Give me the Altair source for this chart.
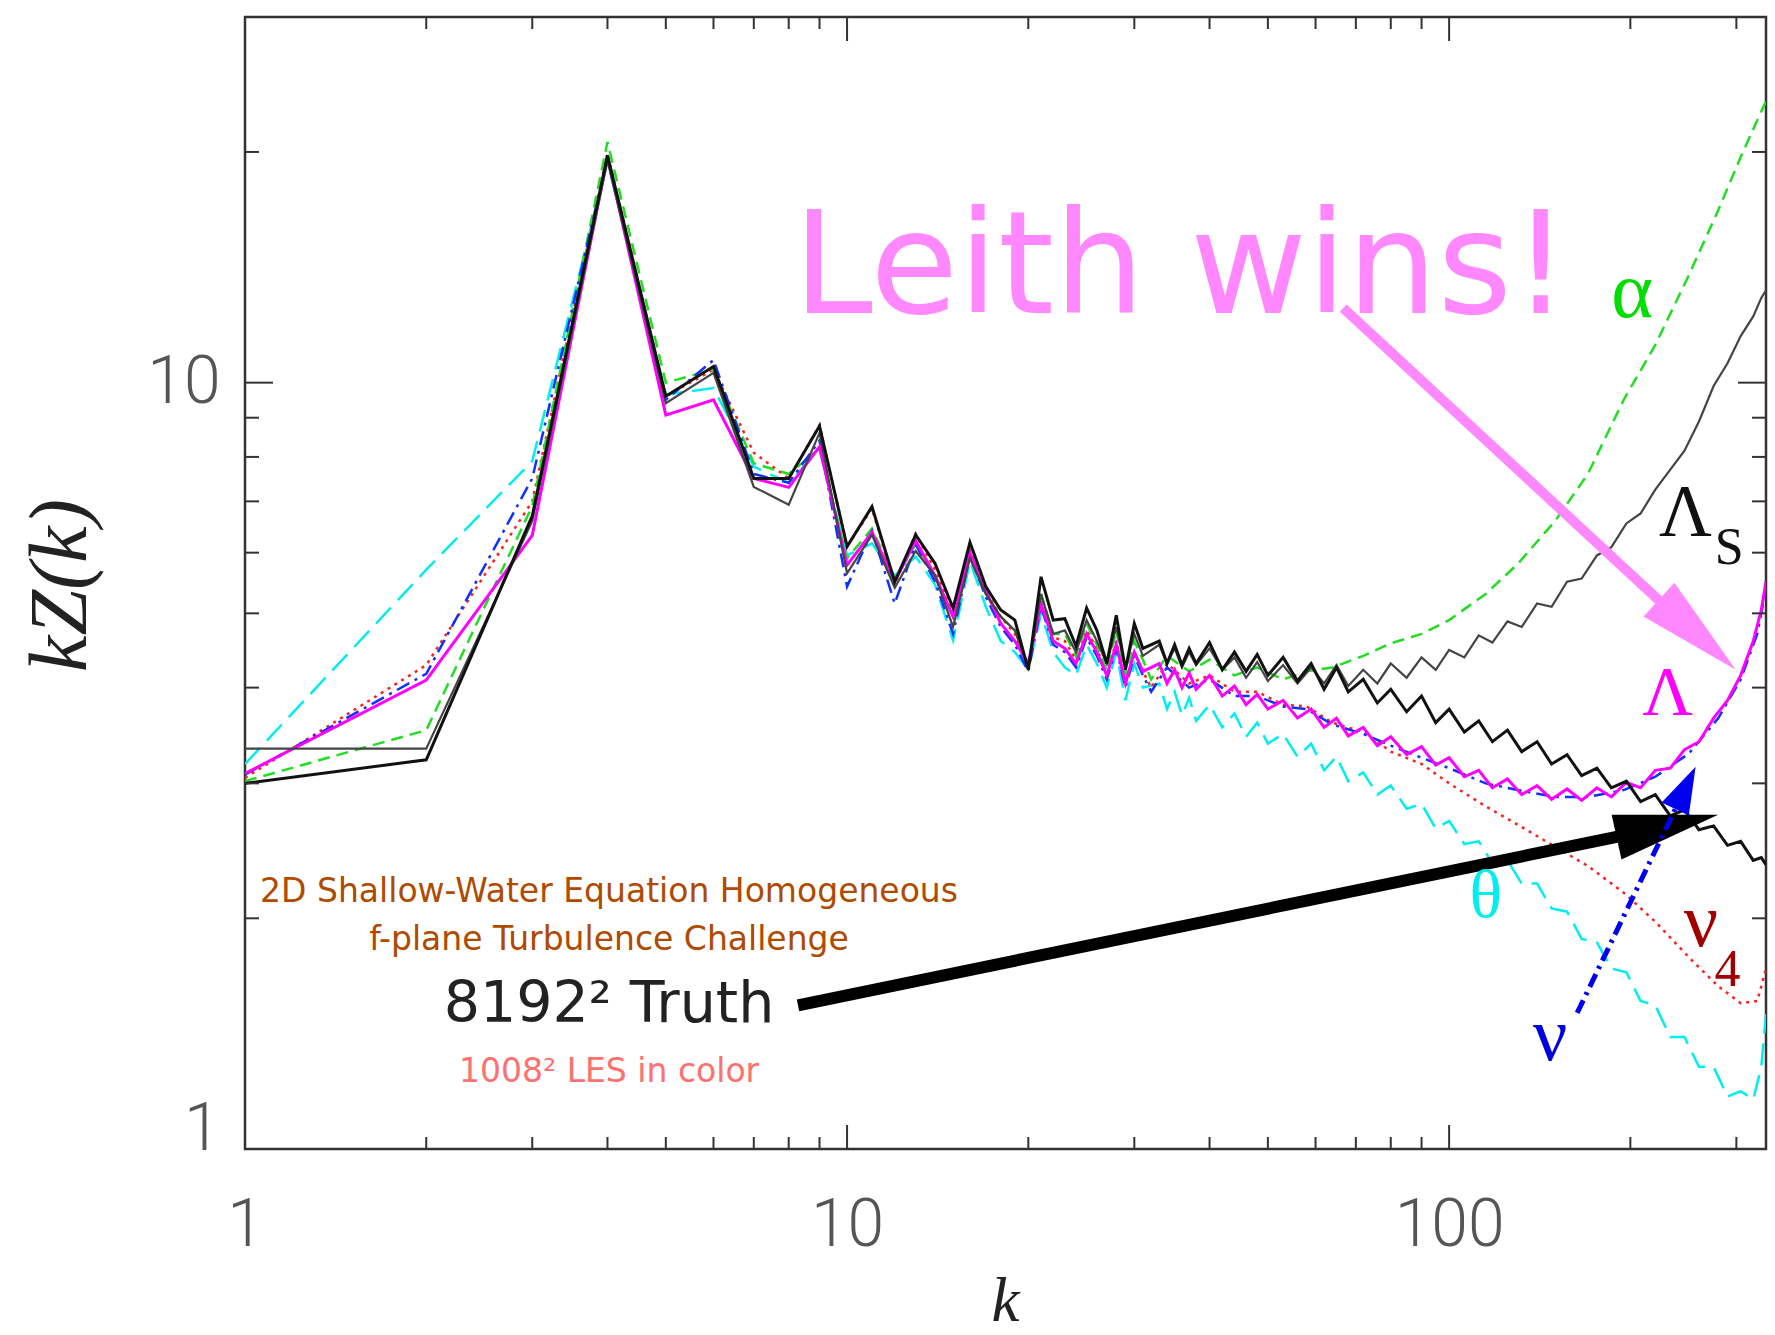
import altair as alt
import pandas as pd

# ---------------- data ----------------
K_LO = list(range(1, 33))
K_HI = [34, 37, 40, 44, 48, 53, 58, 64, 72, 80, 90, 100, 115, 130, 150, 170,
        195, 220, 250, 280, 305, 325, 336]
K_FINE = [33, 34, 35, 36, 37, 38, 40, 42, 44, 46, 48, 50, 53, 56, 59, 62, 65, 68,
          72, 76, 80, 85, 90, 95, 100, 106, 112, 118, 125, 132, 140, 148, 157, 166,
          176, 186, 197, 208, 220, 233, 246, 260, 275, 290, 305, 320, 330, 336]
K_COARSE = K_LO + K_HI
K_DENSE = K_LO[:-1] + K_FINE

TRUTH = [3.00, 3.22, 6.70, 19.8, 9.60, 10.5, 7.50, 7.50, 8.78, 6.11, 6.89, 5.50,
         6.33, 5.81, 5.08, 6.19, 5.42, 5.05, 4.90, 4.22, 5.58, 4.90, 4.92, 4.53,
         5.08, 4.75, 4.30, 4.97, 4.22, 4.85, 4.50,
         4.60, 4.30, 4.55, 4.28, 4.50, 4.30, 4.58, 4.22, 4.45, 4.20, 4.42, 4.15,
         4.38, 4.08, 4.30, 3.98, 4.25, 3.95, 4.10, 3.82, 3.98, 3.72, 3.90, 3.60,
         3.75, 3.50, 3.62, 3.40, 3.52, 3.30, 3.40, 3.18, 3.27, 3.07, 3.14, 2.96,
         3.02, 2.84, 2.90, 2.72, 2.77, 2.61, 2.64, 2.49, 2.52, 2.38, 2.40, 2.35]
LAMBDA_S = [3.33, 3.33, 6.60, 19.5, 9.40, 10.3, 7.31, 6.93, 8.60, 5.64, 6.33, 5.40,
            6.03, 5.60, 4.80, 5.90, 5.30, 4.95, 4.75, 4.25, 5.30, 4.70, 4.75, 4.45,
            4.90, 4.60, 4.30, 4.80, 4.25, 4.70, 4.40,
            4.55, 4.30, 4.50, 4.25, 4.45, 4.28, 4.50, 4.22, 4.38, 4.12, 4.32, 4.08,
            4.28, 4.05, 4.25, 4.05, 4.28, 4.02, 4.22, 4.05, 4.30, 4.12, 4.38, 4.22,
            4.48, 4.38, 4.68, 4.58, 4.88, 4.80, 5.15, 5.10, 5.50, 5.55, 5.95, 6.10,
            6.55, 6.75, 7.25, 7.70, 8.15, 8.90, 9.90, 10.6, 11.5, 12.2, 12.9, 13.2]
LAMBDA = [3.09, 4.09, 6.32, 19.7, 9.07, 9.50, 7.50, 7.30, 8.25, 5.78, 6.38, 5.50,
          6.22, 5.60, 4.95, 6.00, 5.35, 4.85, 4.60, 4.30, 5.15, 4.60, 4.50, 4.30,
          4.70, 4.45, 4.15, 4.55, 4.05, 4.45, 4.20,
          4.30, 4.05, 4.22, 4.00, 4.18, 3.98, 4.15, 3.90, 4.02, 3.80, 3.92, 3.75,
          3.85, 3.65, 3.75, 3.55, 3.65, 3.46, 3.55, 3.36, 3.45, 3.27, 3.35, 3.17,
          3.24, 3.06, 3.12, 2.96, 3.04, 2.90, 2.98, 2.86, 2.95, 2.85, 2.96, 2.88,
          3.01, 2.96, 3.12, 3.14, 3.32, 3.40, 3.65, 3.85, 4.15, 4.60, 5.05, 5.50]
THETA = [3.18, 5.70, 7.90, 19.4, 9.65, 9.84, 7.77, 7.40, 8.17, 5.95, 6.17, 5.60,
         5.93, 5.45, 4.61, 5.85, 5.10, 4.60, 4.45, 4.22, 5.00, 4.45, 4.25, 4.15,
         4.55, 4.30, 4.00, 4.45, 3.85, 4.30, 4.00,
         4.05, 3.75, 3.95, 3.68, 3.88, 3.62, 3.80, 3.55, 3.70, 3.45, 3.60, 3.38,
         3.48, 3.25, 3.38, 3.12, 3.25, 3.02, 3.10, 2.90, 2.98, 2.78, 2.82, 2.62,
         2.68, 2.50, 2.52, 2.36, 2.38, 2.22, 2.22, 2.06, 2.04, 1.88, 1.86, 1.72,
         1.70, 1.56, 1.54, 1.40, 1.40, 1.28, 1.28, 1.17, 1.19, 1.16, 1.28, 1.50]
ALPHA = [3.02, 3.52, 6.90, 20.6, 10.0, 10.4, 7.85, 7.60, 8.20, 5.90, 6.45, 5.55,
         6.15, 5.60, 4.95, 6.00, 5.30, 4.95, 4.75, 4.25, 5.30, 4.70, 4.70, 4.40,
         4.85, 4.55, 4.20, 4.75, 4.15, 4.60, 4.35, 4.10,
         4.40, 4.20, 4.35, 4.15, 4.25, 4.10, 4.20, 4.25, 4.40, 4.57, 4.70, 4.90,
         5.30, 5.80, 6.60, 7.60, 9.50, 11.2, 13.8, 16.8, 19.7, 22.0, 23.3]
NU = [3.08, 4.17, 7.50, 19.6, 9.50, 10.7, 7.60, 7.40, 8.40, 5.42, 6.40, 5.15,
      6.15, 5.50, 4.70, 5.95, 5.25, 4.80, 4.55, 4.20, 5.10, 4.55, 4.45, 4.25,
      4.65, 4.40, 4.10, 4.50, 4.00, 4.40, 4.15, 3.95,
      4.25, 4.00, 4.10, 3.90, 3.90, 3.78, 3.75, 3.58, 3.48, 3.36, 3.24, 3.14,
      3.00, 2.94, 2.88, 2.88, 2.94, 3.06, 3.28, 3.65, 4.10, 4.70, 5.40]
NU4 = [3.05, 4.28, 7.00, 19.9, 9.60, 10.4, 8.10, 7.50, 8.80, 6.11, 6.85, 5.45,
       6.35, 5.70, 5.00, 6.10, 5.35, 4.95, 4.70, 4.25, 5.30, 4.65, 4.60, 4.35,
       4.75, 4.50, 4.15, 4.60, 4.05, 4.45, 4.20, 4.00,
       4.30, 4.05, 4.15, 3.95, 3.95, 3.80, 3.78, 3.60, 3.50, 3.30, 3.18, 3.00,
       2.80, 2.65, 2.48, 2.34, 2.16, 1.98, 1.78, 1.63, 1.55, 1.56, 1.72]

X_MAJOR = [1, 10, 100]
X_MINOR = [2, 3, 4, 5, 6, 7, 8, 9, 20, 30, 40, 50, 60, 70, 80, 90, 200, 300]
Y_MAJOR = [1, 10]
Y_MINOR = [2, 3, 4, 5, 6, 7, 8, 9, 20]

# ---------------- styling ----------------
W, H = 1521, 1132
xs = alt.Scale(type="log", domain=[1, 336], nice=False)
ys = alt.Scale(type="log", domain=[1, 30], nice=False)

series = [
    ("theta", K_DENSE, THETA, "#00eeee", 2.5, [22, 10]),
    ("nu4", K_COARSE, NU4, "#ff2020", 2.5, [3, 5]),
    ("alpha", K_COARSE, ALPHA, "#22dd22", 2.5, [12, 7]),
    ("nu", K_COARSE, NU, "#1030ff", 2.5, [14, 6, 3, 6]),
    ("Lambda", K_DENSE, LAMBDA, "#ff00ff", 3, None),
    ("Lambda_s", K_DENSE, LAMBDA_S, "#444444", 2.2, None),
    ("truth", K_DENSE, TRUTH, "#111111", 3, None),
]

x_axis = alt.Axis(values=X_MAJOR, format="d", labelFlush=False, ticks=False, tickSize=0,
                  domain=False, grid=False, labelFontSize=66, labelFont="Roboto",
                  labelFontWeight=300, labelColor="#555555", labelPadding=44,
                  title="k", titleFont="Liberation Serif", titleFontStyle="italic",
                  titleFontWeight="normal", titleFontSize=63, titleColor="#222222",
                  titleX=760, titleY=152, titleAlign="center", titleBaseline="middle")
y_axis = alt.Axis(values=Y_MAJOR, format="d", labelFlush=True, labelFlushOffset=14,
                  ticks=False, tickSize=0,
                  domain=False, grid=False, labelFontSize=66, labelFont="Roboto",
                  labelFontWeight=300, labelColor="#555555", labelPadding=25,
                  title="kZ(k)", titleFont="Liberation Serif", titleFontStyle="italic",
                  titleFontWeight="normal", titleFontSize=82, titleColor="#222222",
                  titleX=-185, titleY=568, titleAngle=270, titleAlign="center",
                  titleBaseline="middle")


def X(field):
    return alt.X(field, scale=xs, axis=x_axis)


def Y(field):
    return alt.Y(field, scale=ys, axis=y_axis)


layers = []
for name, ks, vals, col, sw, dash in series:
    df = pd.DataFrame({"k": ks, "v": vals})
    kw = dict(color=col, strokeWidth=sw, clip=True)
    if dash:
        kw["strokeDash"] = dash
    layers.append(alt.Chart(df).mark_line(**kw).encode(x=X("k:Q"), y=Y("v:Q")))


# inward ticks on all four sides
def xticks(vals, length):
    d = pd.DataFrame({"k": vals})
    b = alt.Chart(d).mark_rule(color="#333333", strokeWidth=2).encode(
        x=X("k:Q"), y=alt.value(H), y2=alt.value(H - length))
    t = alt.Chart(d).mark_rule(color="#333333", strokeWidth=2).encode(
        x=X("k:Q"), y=alt.value(0), y2=alt.value(length))
    return [b, t]


def yticks(vals, length):
    d = pd.DataFrame({"v": vals})
    l = alt.Chart(d).mark_rule(color="#333333", strokeWidth=2).encode(
        y=Y("v:Q"), x=alt.value(0), x2=alt.value(length))
    r = alt.Chart(d).mark_rule(color="#333333", strokeWidth=2).encode(
        y=Y("v:Q"), x=alt.value(W), x2=alt.value(W - length))
    return [l, r]


layers += xticks(X_MAJOR, 24) + xticks(X_MINOR, 12) + yticks(Y_MAJOR, 28) + yticks(Y_MINOR, 14)


# ---------------- annotations ----------------
def text_layer(txt, k, v, size, color, font, align="center", baseline="alphabetic"):
    d = pd.DataFrame({"k": [k], "v": [v]})
    return alt.Chart(d).mark_text(text=txt, fontSize=size, color=color, font=font,
                                  align=align, baseline=baseline).encode(
        x=X("k:Q"), y=Y("v:Q"))


def arrow(k0, v0, k1, v1, kt, vt, angle, size, path, color, width, dash=None):
    d = pd.DataFrame({"k": [k0], "v": [v0], "k1": [k1], "v1": [v1]})
    kw = dict(color=color, strokeWidth=width)
    if dash:
        kw["strokeDash"] = dash
    line = alt.Chart(d).mark_rule(**kw).encode(
        x=X("k:Q"), y=Y("v:Q"), x2="k1:Q", y2="v1:Q")
    h = pd.DataFrame({"k": [kt], "v": [vt]})
    head = alt.Chart(h).mark_point(shape=path, filled=True, size=size, angle=angle,
                                   color=color, opacity=1, strokeWidth=0).encode(
        x=X("k:Q"), y=Y("v:Q"))
    return [line, head]


HEAD_NARROW = "M0,0L0.22,1L-0.22,1Z"
HEAD_SMALL = "M0,0L0.32,1L-0.32,1Z"

layers += arrow(66.7, 12.51, 228.5, 5.11, 299.3, 4.22, 132.4, 43264, HEAD_NARROW,
                "#ff88ff", 10)
layers += arrow(8.29, 1.54, 204.5, 2.585, 279.8, 2.73, 77.6, 43264, HEAD_NARROW,
                "#000000", 12)
layers += arrow(163.2, 1.505, 244.3, 2.908, 256.7, 3.154, 25.7, 8836, HEAD_SMALL,
                "#0000ee", 5, [14, 6, 3, 6])

COMIC = "DejaVu Sans"
SERIF = "Liberation Serif"
layers += [
    text_layer("Leith wins!", 8.135, 12.33, 143, "#ff88ff", COMIC, align="left"),
    text_layer("2D Shallow-Water Equation Homogeneous", 4.024, 2.164, 33, "#b04a00",
               COMIC, baseline="middle"),
    text_layer("f-plane Turbulence Challenge", 4.024, 1.874, 33, "#b04a00", COMIC,
               baseline="middle"),
    text_layer("8192² Truth", 4.024, 1.541, 57, "#222222", COMIC, baseline="middle"),
    text_layer("1008² LES in color", 4.024, 1.26, 33, "#ff7070", COMIC,
               baseline="middle"),
    text_layer("α", 201.4, 12.18, 80, "#00dd00", SERIF),
    text_layer("Λ", 247.0, 6.30, 73, "#111111", SERIF),
    text_layer("S", 292.0, 5.80, 52, "#111111", SERIF),
    text_layer("Λ", 230.7, 3.685, 70, "#ff00ff", SERIF),
    text_layer("θ", 115.1, 2.01, 68, "#00eeee", SERIF),
    text_layer("ν", 262.0, 1.84, 76, "#a00000", SERIF),
    text_layer("4", 290.0, 1.63, 52, "#a00000", SERIF),
    text_layer("ν", 147.2, 1.307, 76, "#0000dd", SERIF),
]

chart = alt.layer(*layers).properties(
    width=W, height=H,
    padding={"left": 245, "top": 17, "right": 9, "bottom": 186},
    autosize=alt.AutoSizeParams(type="none"),
    background="white",
).configure_view(stroke="#333333", strokeWidth=2.5)

chart.save("out.html", embed_options={"renderer": "svg", "actions": False})
